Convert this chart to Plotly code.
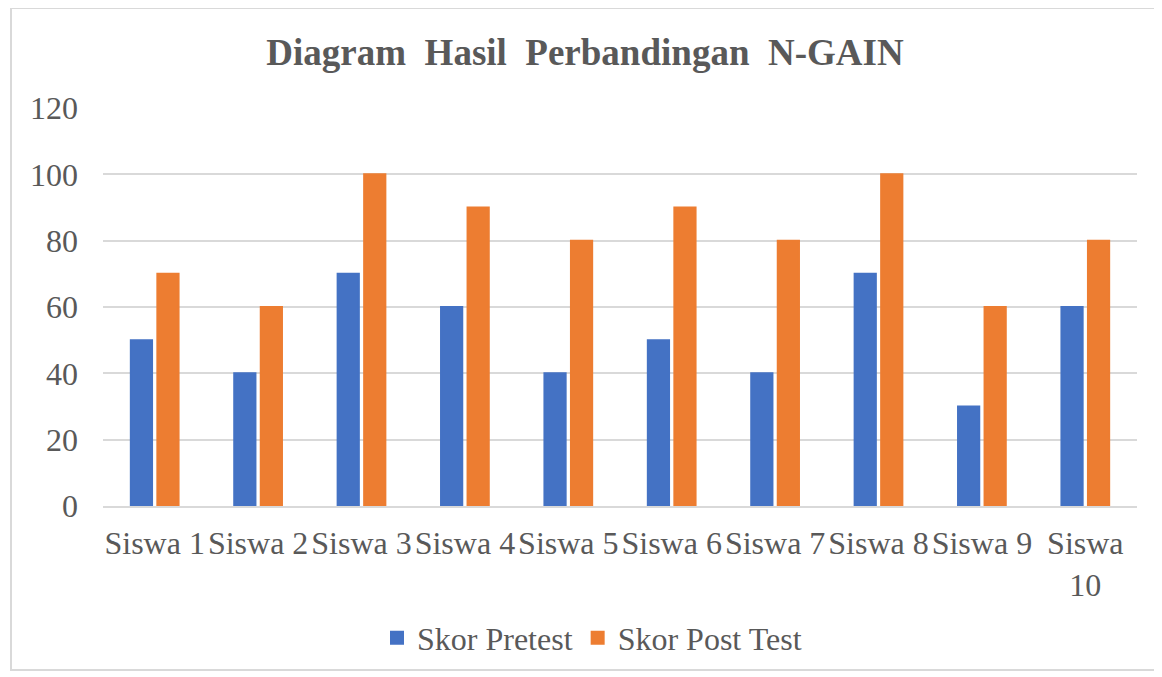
import plotly.graph_objects as go

categories = ["Siswa 1", "Siswa 2", "Siswa 3", "Siswa 4", "Siswa 5",
              "Siswa 6", "Siswa 7", "Siswa 8", "Siswa 9", "Siswa 10"]
tick_text = ["Siswa 1", "Siswa 2", "Siswa 3", "Siswa 4", "Siswa 5",
             "Siswa 6", "Siswa 7", "Siswa 8", "Siswa 9", "Siswa<br>10"]
pretest = [50, 40, 70, 60, 40, 50, 40, 70, 30, 60]
posttest = [70, 60, 100, 90, 80, 90, 80, 100, 60, 80]
y_ticks = [0, 20, 40, 60, 80, 100, 120]

FONT = "Liberation Serif, Times New Roman, serif"
TXT = "#595959"
BLUE = "#4472C4"
ORANGE = "#ED7D31"

fig = go.Figure()
fig.add_trace(go.Bar(x=categories, y=pretest, name="Skor Pretest",
                     marker=dict(color=BLUE, line=dict(color=BLUE, width=2))))
fig.add_trace(go.Bar(x=categories, y=posttest, name="Skor Post Test",
                     marker=dict(color=ORANGE, line=dict(color=ORANGE, width=2))))

OFF = 8  # page body margin
W, H = 1162 - OFF, 677 - OFF
# plot-area edges in screen pixels
L, R, T, B = 103, 1137, 108, 506
pw, ph = R - L, B - T

def px(x):
    return (x - L) / pw

def py(y):
    return (B - y) / ph

fig.update_layout(
    width=W, height=H,
    margin=dict(l=L - OFF, r=W - (R - OFF), t=T - OFF, b=H - (B - OFF)),
    paper_bgcolor="white", plot_bgcolor="white",
    font=dict(family=FONT, color=TXT, size=32),
    title=dict(text="<b>Diagram  Hasil  Perbandingan  N-GAIN</b>",
               x=0.5, xanchor="center", y=1 - (52 - OFF) / H, yanchor="middle",
               font=dict(size=37, color=TXT, family=FONT)),
    barmode="group", bargap=0.487, bargroupgap=0.2,
    showlegend=True,
    legend=dict(orientation="h", x=px(592), xanchor="center",
                y=py(638), yanchor="middle",
                font=dict(size=32, color=TXT, family=FONT),
                itemwidth=30, tracegroupgap=0),
    xaxis=dict(tickmode="array", tickvals=categories, ticktext=tick_text,
               showgrid=False, showline=True, linecolor="#D9D9D9", linewidth=2,
               ticks="", ticklabelstandoff=8,
               tickfont=dict(size=32, color=TXT, family=FONT)),
    yaxis=dict(range=[0, 120], tickvals=y_ticks, showgrid=True,
               gridcolor="#D9D9D9", gridwidth=2, zeroline=False,
               showline=False, ticks="", ticklabelstandoff=24,
               tickfont=dict(size=32, color=TXT, family=FONT)),
    shapes=[dict(type="rect", xref="paper", yref="paper",
                 x0=px(11), x1=px(1160), y0=py(670), y1=py(8),
                 line=dict(color="#D9D9D9", width=2), fillcolor="rgba(0,0,0,0)",
                 layer="below")],
)

fig.write_html("out.html")
